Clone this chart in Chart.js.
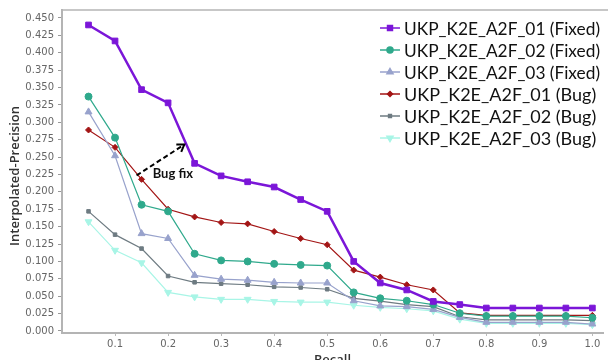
<!DOCTYPE html>
<html>
<head>
<meta charset="utf-8">
<script src="https://cdn.jsdelivr.net/npm/chart.js@4.4.1/dist/chart.umd.min.js"></script>
<style>
  html, body { margin: 0; padding: 0; background: #fff; overflow: hidden; }
  #wrap { position: relative; width: 608px; height: 368px; }
</style>
</head>
<body>
<div id="wrap"><canvas id="grafico"></canvas></div>
<script>
const recall = [0.05, 0.10, 0.15, 0.20, 0.25, 0.30, 0.35, 0.40, 0.45, 0.50,
                0.55, 0.60, 0.65, 0.70, 0.75, 0.80, 0.85, 0.90, 0.95, 1.00];

const fixed01 = [0.440, 0.417, 0.347, 0.328, 0.241, 0.223, 0.2145, 0.207, 0.189, 0.172,
                 0.100, 0.069, 0.059, 0.0425, 0.038, 0.033, 0.033, 0.033, 0.033, 0.033];
const fixed02 = [0.337, 0.278, 0.1815, 0.172, 0.111, 0.1015, 0.100, 0.0965, 0.095, 0.094,
                 0.0555, 0.047, 0.0435, 0.038, 0.0255, 0.0215, 0.0215, 0.0215, 0.0215, 0.019];
const fixed03 = [0.315, 0.252, 0.140, 0.133, 0.080, 0.0745, 0.073, 0.070, 0.069, 0.069,
                 0.0435, 0.036, 0.035, 0.031, 0.0195, 0.0125, 0.0125, 0.0125, 0.0125, 0.010];
const bug01 = [0.289, 0.264, 0.218, 0.175, 0.164, 0.156, 0.154, 0.143, 0.133, 0.124,
               0.0875, 0.0775, 0.0665, 0.059, 0.026, 0.0225, 0.0225, 0.0225, 0.0225, 0.0225];
const bug02 = [0.172, 0.1385, 0.1185, 0.079, 0.070, 0.068, 0.0665, 0.0635, 0.0625, 0.060,
               0.047, 0.043, 0.038, 0.035, 0.0205, 0.016, 0.016, 0.016, 0.016, 0.015];
const bug03 = [0.157, 0.116, 0.098, 0.0555, 0.049, 0.0455, 0.0455, 0.0425, 0.0415, 0.0415,
               0.037, 0.034, 0.032, 0.029, 0.017, 0.011, 0.011, 0.011, 0.011, 0.009];

const seriesNames = ['UKP_K2E_A2F_01 (Fixed)', 'UKP_K2E_A2F_02 (Fixed)', 'UKP_K2E_A2F_03 (Fixed)',
                     'UKP_K2E_A2F_01 (Bug)', 'UKP_K2E_A2F_02 (Bug)', 'UKP_K2E_A2F_03 (Bug)'];

const xTicks = [0.1, 0.2, 0.3, 0.4, 0.5, 0.6, 0.7, 0.8, 0.9, 1.0];
const yTicks = [0, 0.025, 0.05, 0.075, 0.1, 0.125, 0.15, 0.175, 0.2, 0.225,
                0.25, 0.275, 0.3, 0.325, 0.35, 0.375, 0.4, 0.425, 0.45];

const toPoints = vals => vals.map((v, i) => ({ x: recall[i], y: v }));

function serie(label, vals, color, style, radius, width, rotation) {
  return {
    label: label,
    data: toPoints(vals),
    borderColor: color,
    backgroundColor: color,
    borderWidth: width,
    pointStyle: style,
    pointRadius: radius,
    pointRotation: rotation || 0,
    pointBorderWidth: 1,
    tension: 0
  };
}

// leyenda dibujada dentro del area del grafico
const leyenda = {
  id: 'leyenda',
  afterDraw(chart) {
    const ctx = chart.ctx;
    ctx.save();
    chart.data.datasets.forEach((ds, i) => {
      const y = 28 + i * 22;
      ctx.strokeStyle = ds.borderColor;
      ctx.fillStyle = ds.borderColor;
      ctx.lineWidth = 1.5;
      ctx.beginPath();
      ctx.moveTo(380, y);
      ctx.lineTo(400, y);
      ctx.stroke();
      Chart.helpers.drawPoint(ctx, {
        pointStyle: ds.pointStyle, radius: ds.pointRadius - 0.5,
        rotation: ds.pointRotation, borderWidth: 1
      }, 390, y);
      ctx.fillStyle = '#111';
      ctx.font = '18px Lato';
      ctx.textBaseline = 'middle';
      ctx.fillText(ds.label, 404, y + 1, 196);
    });
    ctx.restore();
  }
};

// flecha "Bug fix", borde superior y titulo del eje y
const anotacion = {
  id: 'anotacion',
  afterDatasetsDraw(chart) {
    const ctx = chart.ctx;
    const xs = chart.scales.x, ys = chart.scales.y;
    const a = chart.chartArea;
    ctx.save();
    ctx.strokeStyle = '#b4b4b4';
    ctx.lineWidth = 1.5;
    ctx.beginPath();
    ctx.moveTo(a.left, a.top);
    ctx.lineTo(608, a.top);
    ctx.stroke();

    const x1 = xs.getPixelForValue(0.1406), y1 = ys.getPixelForValue(0.2236);
    const x2 = xs.getPixelForValue(0.2306), y2 = ys.getPixelForValue(0.268);
    ctx.strokeStyle = '#000';
    ctx.lineWidth = 2;
    ctx.setLineDash([5, 3]);
    ctx.beginPath();
    ctx.moveTo(x1, y1);
    ctx.lineTo(x2, y2);
    ctx.stroke();
    ctx.setLineDash([]);
    const ang = Math.atan2(y2 - y1, x2 - x1);
    ctx.beginPath();
    ctx.moveTo(x2 - 8 * Math.cos(ang - 0.6), y2 - 8 * Math.sin(ang - 0.6));
    ctx.lineTo(x2, y2);
    ctx.lineTo(x2 - 8 * Math.cos(ang + 0.6), y2 - 8 * Math.sin(ang + 0.6));
    ctx.stroke();

    ctx.fillStyle = '#111';
    ctx.font = 'bold 13px Lato';
    ctx.textAlign = 'center';
    ctx.textBaseline = 'middle';
    ctx.fillText('Bug fix', xs.getPixelForValue(0.209), ys.getPixelForValue(0.2264));

    ctx.translate(15, 176);
    ctx.rotate(-Math.PI / 2);
    ctx.fillStyle = '#333';
    ctx.font = '600 13px "Open Sans"';
    ctx.fillText('Interpolated-Precision', 0, 0, 152);
    ctx.restore();
  }
};

const ctx = document.getElementById('grafico').getContext('2d');
new Chart(ctx, {
  type: 'line',
  data: {
    datasets: [
      serie(seriesNames[0], fixed01, '#7b16d8', 'rect', 4, 2.5),
      serie(seriesNames[1], fixed02, '#2fa98c', 'circle', 3.5, 1.2),
      serie(seriesNames[2], fixed03, '#98a2cc', 'triangle', 4, 1.2),
      serie(seriesNames[3], bug01, '#a31515', 'rectRot', 3, 1.2),
      serie(seriesNames[4], bug02, '#6e7b82', 'rect', 2.5, 1.2),
      serie(seriesNames[5], bug03, '#a8f5e6', 'triangle', 4, 1.2, 180)
    ]
  },
  options: {
    responsive: true,
    maintainAspectRatio: false,
    animation: false,
    layout: { padding: { top: 9, right: 2, left: 0, bottom: 0 } },
    scales: {
      x: {
        type: 'linear',
        min: 0,
        max: 1.02,
        afterFit: s => { s.height = 35; },
        afterBuildTicks: s => { s.ticks = xTicks.map(v => ({ value: v })); },
        grid: { drawOnChartArea: false, tickLength: 3, color: '#bbb' },
        border: { color: '#b4b4b4', width: 2 },
        ticks: {
          color: '#666',
          padding: 2,
          maxRotation: 0,
          font: { family: 'DejaVu Sans', size: 10 },
          callback: v => Number(v).toFixed(1)
        },
        title: {
          display: true,
          text: 'Recall',
          color: '#333',
          padding: 0,
          font: { family: 'Open Sans', size: 13, weight: '600' }
        }
      },
      y: {
        min: -0.0029,
        max: 0.4615,
        afterFit: s => { s.width = 62; },
        afterBuildTicks: s => { s.ticks = yTicks.map(v => ({ value: v })); },
        grid: { drawOnChartArea: false, tickLength: 4, color: '#999' },
        border: { color: '#b4b4b4', width: 2 },
        ticks: {
          color: '#666',
          padding: 4,
          font: { family: 'DejaVu Sans', size: 10 },
          callback: v => Number(v).toFixed(3)
        },
        title: { display: false }
      }
    },
    plugins: {
      legend: { display: false },
      tooltip: { enabled: false }
    }
  },
  plugins: [leyenda, anotacion]
});
</script>
</body>
</html>
